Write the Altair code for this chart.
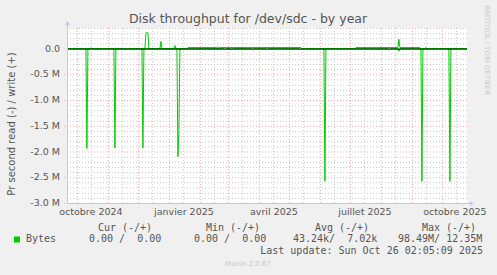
import altair as alt
import pandas as pd

TITLE = "Disk throughput for /dev/sdc - by year"
Y_TITLE = "Pr second read (-) / write (+)"

# Read (negative) series, values in M bytes/s
read_dates = ["2024-09-21", "2024-10-10", "2024-10-11", "2024-10-12",
              "2024-11-07", "2024-11-08", "2024-11-09",
              "2024-12-05", "2024-12-06", "2024-12-07",
              "2025-01-09", "2025-01-10", "2025-01-11", "2025-01-12",
              "2025-02-25", "2025-02-26", "2025-02-27",
              "2025-03-04", "2025-03-05", "2025-03-06",
              "2025-03-25", "2025-03-26", "2025-03-27",
              "2025-04-08", "2025-04-09", "2025-04-10",
              "2025-05-11", "2025-05-12", "2025-05-13",
              "2025-06-05", "2025-06-06", "2025-06-07",
              "2025-08-08", "2025-08-09", "2025-08-10",
              "2025-08-18", "2025-08-19", "2025-08-20",
              "2025-09-10", "2025-09-11", "2025-09-12",
              "2025-10-08", "2025-10-09", "2025-10-10",
              "2025-10-26"]
read_values = [0, 0, -1.94, 0,
               0, -1.93, 0,
               0, -1.93, 0,
               0, -2.10, -1.6, 0,
               0, -0.02, 0,
               0, -0.02, 0,
               0, -0.02, 0,
               0, -0.02, 0,
               0, -0.02, 0,
               0, -2.58, 0,
               0, -0.02, 0,
               0, -0.05, 0,
               0, -2.58, 0,
               0, -2.58, 0,
               0]

# Write (positive) series, values in M bytes/s
write_dates = ["2024-09-21", "2024-10-14", "2024-10-15", "2024-10-16",
               "2024-12-08", "2024-12-09", "2024-12-10", "2024-12-11", "2024-12-12",
               "2024-12-23", "2024-12-24", "2024-12-25",
               "2025-01-06", "2025-01-07", "2025-01-08",
               "2025-01-19", "2025-01-20", "2025-02-18", "2025-02-19", "2025-02-20",
               "2025-05-13", "2025-05-14",
               "2025-07-06", "2025-07-07", "2025-08-18", "2025-08-19", "2025-08-20",
               "2025-09-09", "2025-09-10",
               "2025-09-14", "2025-09-15", "2025-09-16",
               "2025-10-26"]
write_values = [0, 0, 0.015, 0,
                0, 0.30, 0.32, 0.30, 0,
                0, 0.14, 0,
                0, 0.06, 0,
                0, 0.02, 0.02, 0.035, 0.02,
                0.02, 0,
                0, 0.02, 0.02, 0.18, 0.02,
                0.02, 0,
                0, 0.02, 0,
                0]

month_starts = ["2024-10-01", "2024-11-01", "2024-12-01", "2025-01-01", "2025-02-01",
                "2025-03-01", "2025-04-01", "2025-05-01", "2025-06-01", "2025-07-01",
                "2025-08-01", "2025-09-01", "2025-10-01"]
mid_months = ["2024-10-15", "2024-11-15", "2024-12-15", "2025-01-15", "2025-02-15",
              "2025-03-15", "2025-04-15", "2025-05-15", "2025-06-15", "2025-07-15",
              "2025-08-15", "2025-09-15", "2025-10-15"]
major_levels = [-3.0, -2.5, -2.0, -1.5, -1.0, -0.5, 0.0]
major_labels = ["-3.0 M", "-2.5 M", "-2.0 M", "-1.5 M", "-1.0 M", "-0.5 M", "0.0"]
minor_levels = [-2.9, -2.8, -2.7, -2.6, -2.4, -2.3, -2.2, -2.1, -1.9, -1.8, -1.7, -1.6,
                -1.4, -1.3, -1.2, -1.1, -0.9, -0.8, -0.7, -0.6, -0.4, -0.3, -0.2, -0.1,
                0.1, 0.2, 0.3, 0.4]
x_label_dates = ["2024-10-15", "2025-01-16", "2025-04-16", "2025-07-16", "2025-10-14"]
x_label_texts = ["octobre 2024", "janvier 2025", "avril 2025", "juillet 2025", "octobre 2025"]

NB = "\u00a0"
legend_headers = ["Cur (-/+)", "Min (-/+)", "Avg (-/+)", "Max (-/+)"]
legend_values = ["0.00 /  0.00", "0.00 /  0.00", "43.24k/  7.02k", "98.49M/ 12.35M"]
legend_name = "Bytes"
last_update = "Last update: Sun Oct 26 02:05:09 2025"
munin_version = "Munin 2.0.67"
rrd_credit = "RRDTOOL / TOBI OETIKER"

# layout
W, H = 400, 175
header_x = [58, 166, 275, 382]
value_x = [22, 127, 226, 331]
GREEN = "#00CC00"
FONT = "DejaVu Sans"
MONO = "DejaVu Sans Mono"
AXIS_COL = "#C4C4F4"
MINOR_COL = "#C8C8C8"
MAJOR_COL = "#F2AAAA"

x_dom = [alt.DateTime(year=2024, month=9, date=21, hours=2, minutes=5),
         alt.DateTime(year=2025, month=10, date=26, hours=2, minutes=5)]
xs = alt.Scale(domain=x_dom, nice=False)
ys = alt.Scale(domain=[-3.0, 0.4], nice=False, zero=False)

lines_df = pd.concat([
    pd.DataFrame({"date": pd.to_datetime(read_dates), "value": read_values, "series": "read"}),
    pd.DataFrame({"date": pd.to_datetime(write_dates), "value": write_values, "series": "write"}),
])

def one():
    return pd.DataFrame({"a": [0]})

minor_v = alt.Chart(pd.DataFrame({"date": pd.to_datetime(mid_months)})).mark_rule(
    color=MINOR_COL, strokeDash=[1, 2], strokeWidth=1, xOffset=0.5
).encode(x=alt.X("date:T", scale=xs, axis=None), y=alt.value(0), y2=alt.value(H))

minor_h = alt.Chart(pd.DataFrame({"v": minor_levels})).mark_rule(
    color=MINOR_COL, strokeDash=[1, 2], strokeWidth=1, yOffset=0.5
).encode(y=alt.Y("v:Q", scale=ys, axis=None), x=alt.value(0), x2=alt.value(W))

major_v = alt.Chart(pd.DataFrame({"date": pd.to_datetime(month_starts)})).mark_rule(
    color=MAJOR_COL, strokeDash=[1, 2], strokeWidth=1, xOffset=0.5
).encode(x=alt.X("date:T", scale=xs, axis=None), y=alt.value(0), y2=alt.value(H))

major_h = alt.Chart(pd.DataFrame({"v": major_levels})).mark_rule(
    color=MAJOR_COL, strokeDash=[1, 2], strokeWidth=1, yOffset=0.5
).encode(y=alt.Y("v:Q", scale=ys, axis=None), x=alt.value(-3), x2=alt.value(W))

y_labels = alt.Chart(pd.DataFrame({"v": major_levels, "t": major_labels})).mark_text(
    font=FONT, fontSize=9.5, color="#555555", baseline="middle", align="right"
).encode(y=alt.Y("v:Q", scale=ys, axis=None), x=alt.value(-7), text="t:N")

lines = alt.Chart(lines_df).mark_line(strokeWidth=1, color=GREEN, clip=True).encode(
    x=alt.X("date:T", scale=xs, axis=None),
    y=alt.Y("value:Q", scale=ys, axis=None),
    detail="series:N",
)

zero_rule = alt.Chart(pd.DataFrame({"v": [0.0]})).mark_rule(
    color="black", strokeWidth=1, yOffset=0.5).encode(
    y=alt.Y("v:Q", scale=ys, axis=None), x=alt.value(0), x2=alt.value(W))

axis_left = alt.Chart(one()).mark_rule(color=AXIS_COL, strokeWidth=1).encode(
    x=alt.value(0.5), y=alt.value(-3), y2=alt.value(H))
axis_bottom = alt.Chart(one()).mark_rule(color=AXIS_COL, strokeWidth=1).encode(
    y=alt.value(H + 0.5), x=alt.value(0), x2=alt.value(W + 3))
arrow_up = alt.Chart(one()).mark_point(
    shape="triangle-up", filled=True, color=AXIS_COL, size=22, opacity=1).encode(
    x=alt.value(0.5), y=alt.value(-5))
arrow_right = alt.Chart(one()).mark_point(
    shape="triangle-right", filled=True, color=AXIS_COL, size=22, opacity=1).encode(
    x=alt.value(W + 5), y=alt.value(H + 0.5))

x_labels = alt.Chart(pd.DataFrame({"date": pd.to_datetime(x_label_dates), "t": x_label_texts})).mark_text(
    font=FONT, fontSize=9.5, color="#555555", baseline="middle", align="center"
).encode(x=alt.X("date:T", scale=xs, axis=None), y=alt.value(184), text="t:N")

layers = [minor_v, minor_h, major_v, major_h, lines, zero_rule,
          axis_left, axis_bottom, arrow_up, arrow_right, x_labels, y_labels]

def txt(s, x, y, **kw):
    base = dict(font=FONT, fontSize=10, color="#555555", baseline="middle", align="center")
    base.update(kw)
    return alt.Chart(one()).mark_text(text=s.replace(" ", NB), **base).encode(
        x=alt.value(x), y=alt.value(y))

layers.append(txt(TITLE, 181, -9, fontSize=12.5, color="#555555"))
layers.append(txt(Y_TITLE, -55, 96, angle=270, fontSize=10))
layers.append(txt(rrd_credit, 420, -23, angle=90, align="left", fontSize=7, color="#C8C8C8"))
for s, x in zip(legend_headers, header_x):
    layers.append(txt(s, x, 200, font=MONO, fontSize=10))
layers.append(alt.Chart(one()).mark_square(
    color=GREEN, size=36, opacity=1).encode(x=alt.value(-50), y=alt.value(211.5)))
layers.append(txt(legend_name, -41, 211, font=MONO, align="left"))
for s, x in zip(legend_values, value_x):
    layers.append(txt(s, x, 211, font=MONO, align="left"))
layers.append(txt(last_update, 416, 223, font=MONO, align="right"))
layers.append(txt(munin_version, 181, 236, fontSize=7, color="#C8C8C8"))

chart = alt.layer(*layers).properties(
    width=W, height=H,
    autosize=alt.AutoSizeParams(type="none"),
    padding={"left": 67, "top": 28, "right": 30, "bottom": 72},
    background="#F0F0F0",
).configure_view(stroke=None, fill="white")

chart.save("out.html", embed_options={"renderer": "svg", "actions": False})
